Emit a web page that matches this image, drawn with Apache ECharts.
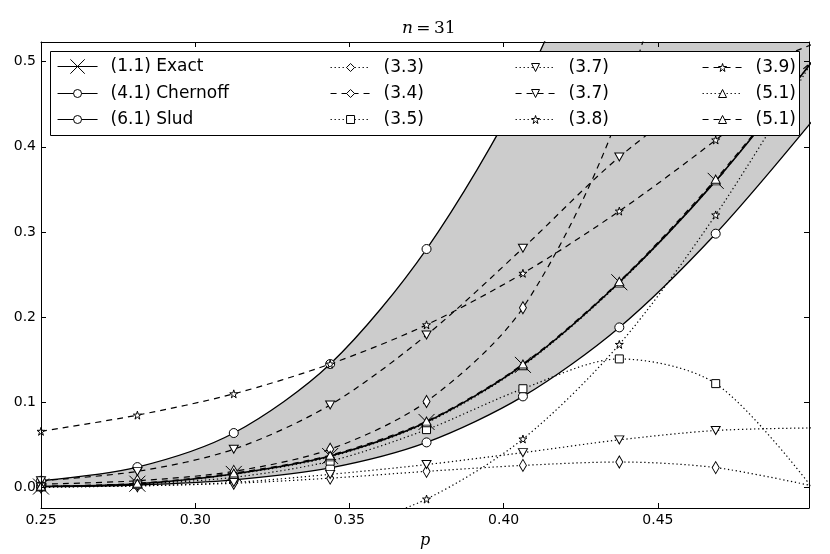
<!DOCTYPE html>
<html style="height: 100%">
<head>
<meta charset="utf-8">
</head>
<body style="height: 100%; margin: 0">
<div id="container" style="width: 830px; height: 554px"></div>
<script src="https://cdn.jsdelivr.net/npm/echarts@6/dist/echarts.min.js"></script>
<script>
// sample points p = k/32, n = 31
var pValues  = [0.25, 0.28125, 0.3125, 0.34375, 0.375, 0.40625, 0.4375, 0.46875, 0.5];

var exact    = [0.0012, 0.0045, 0.016, 0.037, 0.077, 0.144, 0.241, 0.360, 0.500];
var chernoff = [0.008, 0.024, 0.064, 0.145, 0.280, 0.470, 0.720, 0.920, 1.000];
var slud     = [0.001, 0.003, 0.009, 0.023, 0.053, 0.107, 0.188, 0.298, 0.430];
var eq33     = [0.0005, 0.002, 0.005, 0.011, 0.019, 0.026, 0.030, 0.0234, 0.002];
var eq34     = [0.004, 0.008, 0.019, 0.045, 0.101, 0.211, 0.440, 0.850, 1.500];
var eq35     = [0.001, 0.004, 0.012, 0.031, 0.068, 0.116, 0.151, 0.122, 0.000];
var eq37dot  = [0.0005, 0.002, 0.006, 0.0155, 0.027, 0.041, 0.056, 0.067, 0.070];
var eq37dash = [0.008, 0.019, 0.045, 0.097, 0.179, 0.281, 0.388, 0.470, 0.520];
var eq38     = [null, null, null, -0.055, -0.0135, 0.057, 0.168, 0.320, 0.500];
var eq39     = [0.066, 0.085, 0.110, 0.145, 0.191, 0.2515, 0.3245, 0.408, 0.500];
var eq51dot  = [0.001, 0.004, 0.0155, 0.036, 0.076, 0.143, 0.240, 0.360, 0.500];
var eq51dash = [0.0015, 0.005, 0.017, 0.038, 0.078, 0.145, 0.242, 0.362, 0.500];

// legend labels (two pairs share a label, so keep keys unique)
var labels = ['(1.1) Exact', '(4.1) Chernoff', '(6.1) Slud',
              '(3.3)', '(3.4)', '(3.5)',
              '(3.7)', '(3.7)\u200b', '(3.8)',
              '(3.9)', '(5.1)', '(5.1)\u200b'];

var SOLID = 'solid', DASH = [6, 5], DOT = [1.3, 2.7];
var crossSym = 'path://M0,0L10,10M10,0L0,10';
var starSym = 'path://M50,2L61,37L98,37L68,59L79,95L50,73L21,95L32,59L2,37L39,37Z';
var downTri = 'path://M0,0L10,0L5,9Z';
var upTri = 'path://M5,0L10,9L0,9Z';
var SMOOTH = 0.3;

function pairs(vals) {
    var out = [];
    for (var i = 0; i < pValues.length; i++) {
        if (vals[i] !== null) out.push([pValues[i], vals[i]]);
    }
    return out;
}

function curve(name, vals, dash, symbol, size, width) {
    return {
        name: name,
        type: 'line',
        data: pairs(vals),
        smooth: SMOOTH,
        symbol: symbol,
        symbolSize: size,
        showSymbol: true,
        clip: true,
        silent: true,
        z: 3,
        lineStyle: {color: '#000', width: width || 1.2, type: dash},
        itemStyle: {color: symbol === crossSym ? 'rgba(0,0,0,0)' : '#fff', borderColor: '#000', borderWidth: 1}
    };
}

// filled area down to the bottom of the plot
function fillTo(vals, color) {
    return {
        type: 'line', data: pairs(vals), smooth: SMOOTH, symbol: 'none', silent: true,
        clip: true, z: 1, lineStyle: {width: 0},
        areaStyle: {color: color, opacity: 1, origin: 'start'}
    };
}

var dom = document.getElementById("container");
var myChart = echarts.init(dom);

var series = [
    // gray band between Chernoff (above) and Slud (below)
    fillTo(chernoff, '#cccccc'),
    fillTo(slud, '#ffffff'),
    curve(labels[0], exact, SOLID, crossSym, 16, 1.6),
    curve(labels[1], chernoff, SOLID, 'circle', 9, 1.3),
    curve(labels[2], slud, SOLID, 'circle', 9, 1.3),
    curve(labels[3], eq33, DOT, 'diamond', [7, 12]),
    curve(labels[4], eq34, DASH, 'diamond', [7, 12]),
    curve(labels[5], eq35, DOT, 'rect', 8),
    curve(labels[6], eq37dot, DOT, downTri, [9, 8]),
    curve(labels[7], eq37dash, DASH, downTri, [9, 8]),
    curve(labels[8], eq38, DOT, starSym, 8),
    curve(labels[9], eq39, DASH, starSym, 8),
    curve(labels[10], eq51dot, DOT, upTri, [9, 8]),
    curve(labels[11], eq51dash, DASH, upTri, [9, 8])
];

function legendCol(names, left, top, iconH) {
    return {
        data: names, left: left, top: top, orient: 'vertical', padding: 0,
        itemWidth: 40, itemHeight: iconH || 10, itemGap: 9, selectedMode: false, z: 10,
        itemStyle: {borderWidth: 1},
        lineStyle: {width: 1.1},
        formatter: function (n) { return n.replace('\u200b', ''); },
        textStyle: {fontFamily: 'DejaVu Sans', fontSize: 17, color: '#000', lineHeight: 17, padding: [0, 0, 0, 8]}
    };
}

var tickFont = {fontFamily: 'DejaVu Sans', fontSize: 14, color: '#000'};
var frameLine = {onZero: false, lineStyle: {color: '#000', width: 1}};
var innerTick = {inside: true, length: 5, lineStyle: {color: '#000', width: 1}};

option = {
    animation: false,
    backgroundColor: '#fff',
    title: {
        text: '{i|n}{r|\u2009=\u200931}',
        left: 402, top: 20, padding: 0,
        textStyle: {
            fontWeight: 'normal',
            rich: {
                i: {fontFamily: 'DejaVu Serif', fontStyle: 'italic', fontWeight: 'normal', fontSize: 17, color: '#000'},
                r: {fontFamily: 'DejaVu Serif', fontWeight: 'normal', fontSize: 17, color: '#000'}
            }
        }
    },
    grid: {left: 41, right: 21, top: 42, bottom: 37},
    graphic: [{
        type: 'rect', z: 9,
        shape: {x: 50.5, y: 51.5, width: 749, height: 84},
        style: {fill: '#fff', stroke: '#000', lineWidth: 1}
    }],
    legend: [
        legendCol(labels.slice(0, 1), 57, 58, 18),
        legendCol(labels.slice(1, 3), 57, 85),
        legendCol(labels.slice(3, 6), 330, 59),
        legendCol(labels.slice(6, 9), 515, 59),
        legendCol(labels.slice(9, 12), 702, 59)
    ],
    xAxis: [
        {
            type: 'value', min: 0.25, max: 0.499, interval: 0.05, position: 'bottom', z: 5,
            axisLine: frameLine, axisTick: innerTick, splitLine: {show: false},
            axisLabel: Object.assign({margin: 5, showMaxLabel: false,
                formatter: function (v) { return v.toFixed(2); }}, tickFont),
            name: 'p', nameLocation: 'middle', nameGap: 25,
            nameTextStyle: {fontFamily: 'DejaVu Serif', fontStyle: 'italic', fontSize: 16, color: '#000'}
        },
        {
            type: 'value', min: 0.25, max: 0.499, interval: 0.05, position: 'top', z: 5,
            axisLine: frameLine, axisTick: innerTick, splitLine: {show: false}, axisLabel: {show: false}
        }
    ],
    yAxis: [
        {
            type: 'value', min: -0.024, max: 0.523, splitNumber: 5, position: 'left', z: 5,
            axisLine: frameLine, axisTick: innerTick, splitLine: {show: false},
            axisLabel: Object.assign({margin: 5, showMinLabel: false, showMaxLabel: false,
                formatter: function (v) { return v.toFixed(1); }}, tickFont)
        },
        {
            type: 'value', min: -0.024, max: 0.523, splitNumber: 5, position: 'right', z: 5,
            axisLine: frameLine, axisTick: innerTick, splitLine: {show: false}, axisLabel: {show: false}
        }
    ],
    series: series
};

if (option && typeof option === "object") {
    myChart.setOption(option, true);
}
</script>
</body>
</html>
